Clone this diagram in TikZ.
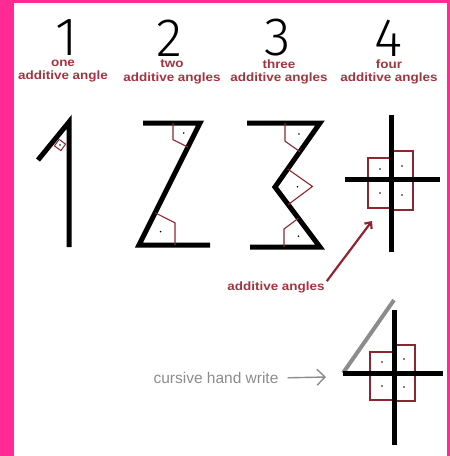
\documentclass[tikz,border=0pt]{standalone}
\usepackage{fontspec}
\setmainfont{Liberation Sans}
\newfontfamily\fuenteCifra{Fira Sans Light}
\newfontfamily\fuenteRoja{Liberation Sans}[FakeStretch=1.12]
\usetikzlibrary{arrows.meta, positioning, calc}
\definecolor{rosaMarco}{HTML}{FF2A93}
\definecolor{rojoOscuro}{HTML}{8E2632}
\definecolor{rojoTexto}{HTML}{A3343F}
\definecolor{grisCursiva}{HTML}{8C8C8C}
\colorlet{colMarco}{rosaMarco}
\colorlet{colMarca}{rojoOscuro}
\colorlet{colTexto}{rojoTexto}
\colorlet{colFlecha}{rojoOscuro}
\colorlet{colGris}{grisCursiva}
\tikzset{
  trazoNegro/.style={line width=5pt, line join=miter},
  trazoGris/.style={line width=4pt, colGris},
  marca/.style={draw=colMarca, line width=1.1pt},
  punto/.style={fill=black},
  cifra/.style={font=\fuenteCifra\fontsize{54}{54}\selectfont, inner sep=0pt},
  etiquetaRoja/.style={font=\fuenteRoja\bfseries\fontsize{12}{13.5}\selectfont,
    text=colTexto, align=center, inner sep=0pt},
  etiquetaGris/.style={font=\fontsize{15.5}{16}\selectfont, text=colGris,
    inner sep=0pt},
  flechaRoja/.style={-{Straight Barb[length=5pt, width=9pt]}, line width=2.2pt,
    colFlecha},
  flechaGris/.style={-{Straight Barb[length=8pt, width=16pt]}, line width=1.4pt,
    colGris},
}
% right-angle mark: vertex, arm, arm, distance
\newcommand{\anguloAditivo}[4]{%
  \coordinate (pa) at ($(#1)!#4!(#2)$);
  \coordinate (pb) at ($(#1)!#4!(#3)$);
  \coordinate (qa) at ($(pa)!1!90:(#1)$);
  \coordinate (qb) at ($(pb)!1!90:(#1)$);
  \coordinate (ap) at (intersection of pa--qa and pb--qb);
  \draw[marca] (pa) -- (ap) -- (pb);
  \fill[punto] ($(#1)!0.6!(ap)$) circle (0.9);
}
\begin{document}
\begin{tikzpicture}[x=1pt, y=-1pt]
  \useasboundingbox (0,0) rectangle (450,456);
  \fill[colMarco] (0,0) rectangle (14,456);
  \fill[colMarco] (0,0) rectangle (450,3);
  \fill[colMarco] (447,0) rectangle (450,456);

  % digits and labels
  \node[cifra] (n1) at (67,38) {1};
  \node[cifra] (n2) at (169,38) {2};
  \node[cifra] (n3) at (278,38) {3};
  \node[cifra] (n4) at (388,38) {4};
  \node[etiquetaRoja, anchor=north] (e1) at (63,59.5) {one\\additive angle};
  \node[etiquetaRoja, anchor=north] (e2) at (172,59.5) {two\\additive angles};
  \node[etiquetaRoja, anchor=north] (e3) at (279,59.5) {three\\additive angles};
  \node[etiquetaRoja, anchor=north] (e4) at (389,59.5) {four\\additive angles};

  % one
  \coordinate (u0) at (38,160);
  \coordinate (u1) at (69,122);
  \coordinate (u2) at (69,247);
  \draw[trazoNegro] (u0) -- (u1) -- (u2);
  \node[draw=colMarca, line width=1pt, minimum size=8pt, inner sep=0pt,
    rotate=54] (m1) at (60,145) {};
  \fill[punto] (m1.center) circle (0.9);

  % two
  \coordinate (z1) at (143,123);
  \coordinate (z2) at (200,123);
  \coordinate (z3) at (139,245);
  \coordinate (z4) at (210,245);
  \draw[trazoNegro] (z1) -- (z2) -- (z3) -- (z4);
  \anguloAditivo{z2}{z1}{z3}{27pt}
  \anguloAditivo{z3}{z4}{z2}{36pt}

  % three
  \coordinate (t1) at (247,123);
  \coordinate (t2) at (320,123);
  \coordinate (t3) at (275,187);
  \coordinate (t4) at (320,247);
  \coordinate (t5) at (250,247);
  \draw[trazoNegro] (t1) -- (t2) -- (t3) -- (t4) -- (t5);
  \anguloAditivo{t2}{t1}{t3}{35pt}
  \anguloAditivo{t3}{t2}{t4}{22pt}
  \anguloAditivo{t4}{t5}{t3}{36pt}

  % four
  \draw[marca] (368,158) rectangle (391,179);
  \draw[marca] (391,151) rectangle (413,179);
  \draw[marca] (368,179) rectangle (391,208);
  \draw[marca] (391,179) rectangle (413,210);
  \foreach \px/\py in {380/169, 402/166, 380/193, 402/195}
    \fill[punto] (\px,\py) circle (0.9);
  \coordinate (c1) at (391,115);
  \coordinate (c2) at (391,252);
  \coordinate (c3) at (345,179);
  \coordinate (c4) at (440,179);
  \draw[trazoNegro] (c1) -- (c2);
  \draw[trazoNegro] (c3) -- (c4);

  \node[etiquetaRoja] (aditivos) at (276,287) {additive angles};
  \coordinate (puntaRoja) at (372,221);
  \draw[flechaRoja] (aditivos.north east) ++(2,0) -- (puntaRoja);

  % cursive four
  \coordinate (g1) at (394,300);
  \coordinate (g2) at (343,373);
  \draw[trazoGris] (g1) -- (g2);
  \draw[marca] (370,352) rectangle (394,373);
  \draw[marca] (394,345) rectangle (415,373);
  \draw[marca] (370,373) rectangle (394,400);
  \draw[marca] (394,373) rectangle (415,401);
  \foreach \px/\py in {382/362, 404/359, 382/386, 404/387}
    \fill[punto] (\px,\py) circle (0.9);
  \coordinate (d1) at (394,310);
  \coordinate (d2) at (394,445);
  \coordinate (d3) at (343,373);
  \coordinate (d4) at (443,373);
  \draw[trazoNegro] (d1) -- (d2);
  \draw[trazoNegro] (d3) -- (d4);

  \node[etiquetaGris] (cursiva) at (216,378) {cursive hand write};
  \coordinate (puntaGris) at (326,377);
  \draw[flechaGris, shorten <=9pt] (cursiva.east) -- (puntaGris);
\end{tikzpicture}
\end{document}
